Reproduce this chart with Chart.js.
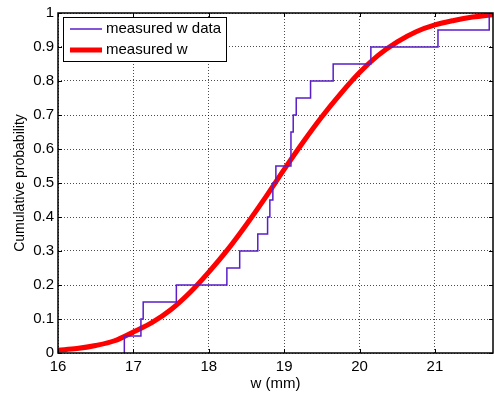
<!DOCTYPE html>
<html>
<head>
<meta charset="utf-8">
<script src="https://cdn.jsdelivr.net/npm/chart.js@4/dist/chart.umd.min.js"></script>
<style>
  html, body { margin: 0; padding: 0; background: #fff; }
  #wrap { width: 494px; height: 394px; }
</style>
</head>
<body>
<div id="wrap"><canvas id="grafico" width="494" height="394"></canvas></div>
<script>
// dados
const wData = [16.88, 17.10, 17.13, 17.57, 18.24, 18.41, 18.65, 18.78, 18.81, 18.85,
               18.89, 19.09, 19.09, 19.12, 19.16, 19.35, 19.65, 20.15, 21.04, 21.72];
const wProb = [0.05, 0.10, 0.15, 0.20, 0.25, 0.30, 0.35, 0.40, 0.45, 0.50,
               0.55, 0.60, 0.65, 0.70, 0.75, 0.80, 0.85, 0.90, 0.95, 1.00];

// curva ajustada (vermelha)
const fitW = [16.00, 16.25, 16.50, 16.75, 17.00, 17.25, 17.50, 17.75, 18.00, 18.25, 18.50, 18.75,
              19.00, 19.25, 19.50, 19.75, 20.00, 20.25, 20.50, 20.75, 21.00, 21.25, 21.50, 21.77];
const fitProb = [0.008, 0.013, 0.022, 0.036, 0.062, 0.090, 0.128, 0.178, 0.238, 0.304, 0.378, 0.457,
                 0.540, 0.620, 0.695, 0.763, 0.825, 0.876, 0.915, 0.945, 0.965, 0.978, 0.988, 0.995];

const xTicks = [16, 17, 18, 19, 20, 21];
const yTicks = [0, 0.1, 0.2, 0.3, 0.4, 0.5, 0.6, 0.7, 0.8, 0.9, 1];

const FONTE = 'Arial, "Liberation Sans", Helvetica, sans-serif';
const ROXO = '#5a1ec8';
const VERMELHO = '#ff0000';

const pontosEscada = [{ x: wData[0], y: 0 }].concat(wData.map((w, i) => ({ x: w, y: wProb[i] })));
const pontosAjuste = fitW.map((w, i) => ({ x: w, y: fitProb[i] }));

/* moldura + ticks internos + legenda */
const molduraPlugin = {
    id: 'moldura',
    afterDraw(chart) {
        const ctx = chart.ctx;
        const a = chart.chartArea;
        const sx = chart.scales.x;
        const sy = chart.scales.y;
        ctx.save();
        ctx.strokeStyle = '#000';
        ctx.lineWidth = 1;
        ctx.beginPath();
        xTicks.forEach(v => {
            const px = Math.round(sx.getPixelForValue(v)) + 0.5;
            ctx.moveTo(px, a.bottom); ctx.lineTo(px, a.bottom - 4);
            ctx.moveTo(px, a.top); ctx.lineTo(px, a.top + 4);
        });
        yTicks.forEach(v => {
            const py = Math.round(sy.getPixelForValue(v)) + 0.5;
            ctx.moveTo(a.left, py); ctx.lineTo(a.left + 4, py);
            ctx.moveTo(a.right, py); ctx.lineTo(a.right - 4, py);
        });
        ctx.stroke();
        ctx.lineWidth = 1.5;
        ctx.strokeRect(a.left, a.top, a.right - a.left, a.bottom - a.top);

        // legenda
        const lx = a.left + 5, ly = a.top + 4, lw = 163, lh = 44;
        ctx.fillStyle = '#fff';
        ctx.fillRect(lx, ly, lw, lh);
        ctx.lineWidth = 1;
        ctx.strokeRect(lx + 0.5, ly + 0.5, lw, lh);
        ctx.font = '15px ' + FONTE;
        ctx.textBaseline = 'middle';
        ctx.fillStyle = '#000';

        ctx.strokeStyle = ROXO;
        ctx.lineWidth = 1.5;
        ctx.beginPath(); ctx.moveTo(lx + 7, ly + 12); ctx.lineTo(lx + 39, ly + 12); ctx.stroke();
        ctx.fillText('measured w data', lx + 43, ly + 12);

        ctx.strokeStyle = VERMELHO;
        ctx.lineWidth = 5;
        ctx.beginPath(); ctx.moveTo(lx + 7, ly + 33); ctx.lineTo(lx + 39, ly + 33); ctx.stroke();
        ctx.fillText('measured w', lx + 43, ly + 33);
        ctx.restore();
    }
};

const ctxGrafico = document.getElementById('grafico');

new Chart(ctxGrafico, {
    type: 'line',
    data: {
        datasets: [
            {
                label: 'measured w data',
                data: pontosEscada,
                borderColor: ROXO,
                borderWidth: 1.5,
                stepped: true,
                pointRadius: 0,
                fill: false
            },
            {
                label: 'measured w',
                data: pontosAjuste,
                borderColor: VERMELHO,
                borderWidth: 5,
                tension: 0.4,
                cubicInterpolationMode: 'monotone',
                pointRadius: 0,
                fill: false
            }
        ]
    },
    options: {
        responsive: false,
        animation: false,
        parsing: false,
        layout: { padding: { left: 0, right: 1, top: 11, bottom: 0 } },
        plugins: {
            legend: { display: false },
            tooltip: { enabled: false }
        },
        scales: {
            x: {
                type: 'linear',
                min: 16,
                max: 21.77,
                afterBuildTicks: s => { s.ticks = xTicks.map(v => ({ value: v })); },
                afterFit: s => { s.height = 41; },
                ticks: {
                    color: '#000',
                    font: { family: FONTE, size: 15 },
                    padding: 5,
                    maxRotation: 0,
                    callback: v => String(v)
                },
                grid: { color: 'rgba(0,0,0,0.7)', drawTicks: false, tickLength: 0 },
                border: { display: false, dash: [1, 2] },
                title: {
                    display: true,
                    text: 'w (mm)',
                    color: '#000',
                    font: { family: FONTE, size: 15 },
                    padding: { top: 0, bottom: 1 }
                }
            },
            y: {
                type: 'linear',
                min: 0,
                max: 1,
                afterBuildTicks: s => { s.ticks = yTicks.map(v => ({ value: v })); },
                afterFit: s => { s.width = 58; },
                ticks: {
                    color: '#000',
                    font: { family: FONTE, size: 15 },
                    padding: 4,
                    callback: v => String(Math.round(v * 10) / 10)
                },
                grid: { color: 'rgba(0,0,0,0.7)', drawTicks: false, tickLength: 0 },
                border: { display: false, dash: [1, 2] },
                title: {
                    display: true,
                    text: 'Cumulative probability',
                    color: '#000',
                    font: { family: FONTE, size: 14 },
                    padding: { top: 12, bottom: 0 }
                }
            }
        }
    },
    plugins: [molduraPlugin]
});
</script>
</body>
</html>
